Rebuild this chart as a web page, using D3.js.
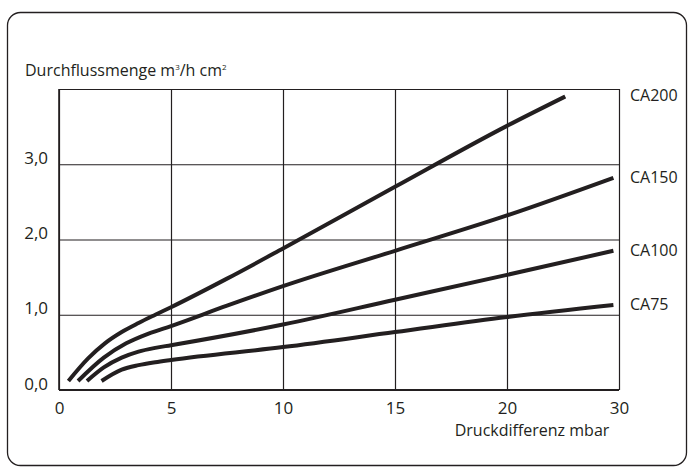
<!DOCTYPE html>
<html lang="de">
<head>
<meta charset="utf-8" />
<script src="https://cdn.jsdelivr.net/npm/d3@7"></script>
<style>
  body { margin: 0; background: #fff; }
  text { font-family: "Open Sans", sans-serif; fill: #231f20; }
  .grid line { stroke: #231f20; stroke-width: 1.2; }
  .grid path { display: none; }
  .tick-lbl path, .tick-lbl line { display: none; }
</style>
</head>
<body>
<script>
// x ticks (last column is compressed: 20 -> 30)
var xTicks = [0, 5, 10, 15, 20, 30];
var yTicks = [0, 1, 2, 3];
var yGrid = [0, 1, 2, 3, 4];

var seriesNames = ["CA200", "CA150", "CA100", "CA75"];

var ca200 = [[0.42, 0.12], [1.3, 0.42], [2.05, 0.62], [2.8, 0.77], [3.55, 0.89], [4.3, 1.0], [5, 1.1], [7.5, 1.48], [10, 1.88], [15, 2.7], [20, 3.51], [25.2, 3.9]];
var ca150 = [[0.85, 0.12], [2, 0.43], [3, 0.62], [4, 0.75], [5, 0.85], [7.5, 1.12], [10, 1.38], [15, 1.85], [20, 2.32], [29.5, 2.82]];
var ca100 = [[1.25, 0.12], [2, 0.3], [2.8, 0.43], [3.55, 0.51], [4.3, 0.56], [5, 0.595], [10, 0.87], [15, 1.2], [20, 1.53], [29.5, 1.85]];
var ca75 = [[1.9, 0.12], [2.8, 0.27], [3.55, 0.33], [4.3, 0.37], [5, 0.4], [10, 0.57], [15, 0.77], [20, 0.97], [29.5, 1.13]];

var series = [ca200, ca150, ca100, ca75];

var width = 689, height = 467;
var pLeft = 59, pRight = 619, pTop = 89, pBottom = 390;

var svg = d3.select("body").append("svg")
    .attr("width", width)
    .attr("height", height);

// outer frame
svg.append("rect")
    .attr("x", 7.5).attr("y", 12.5)
    .attr("width", 679).attr("height", 453)
    .attr("rx", 13).attr("ry", 13)
    .attr("fill", "none")
    .attr("stroke", "#231f20")
    .attr("stroke-width", 1.3);

var colW = (pRight - pLeft) / 5;
var x = d3.scaleLinear()
    .domain(xTicks)
    .range(xTicks.map(function (d, i) { return pLeft + i * colW; }));

var y = d3.scaleLinear().domain([0, 4]).range([pBottom, pTop]);

var de = d3.formatLocale({ decimal: ",", thousands: ".", grouping: [3], currency: ["", " €"] });
var fmt = de.format(".1f");

// grid
svg.append("g").attr("class", "grid")
    .attr("transform", "translate(0," + pBottom + ")")
    .call(d3.axisBottom(x).tickValues(xTicks).tickSize(-(pBottom - pTop)).tickFormat(""));

svg.append("g").attr("class", "grid")
    .attr("transform", "translate(" + pLeft + ",0)")
    .call(d3.axisLeft(y).tickValues(yGrid).tickSize(-(pRight - pLeft)).tickFormat(""));

// thicker base lines
svg.append("line")
    .attr("x1", pLeft).attr("x2", pRight).attr("y1", pBottom).attr("y2", pBottom)
    .attr("stroke", "#231f20").attr("stroke-width", 2);
svg.append("line")
    .attr("x1", pLeft).attr("x2", pLeft).attr("y1", pTop).attr("y2", pBottom)
    .attr("stroke", "#231f20").attr("stroke-width", 1.6);

// x labels
var xa = svg.append("g").attr("class", "tick-lbl")
    .attr("transform", "translate(0," + pBottom + ")")
    .call(d3.axisBottom(x).tickValues(xTicks).tickSize(0).tickPadding(0));
xa.selectAll("text")
    .attr("dy", null)
    .attr("y", 24)
    .style("font-size", "17px")
    .style("font-family", "'Open Sans', sans-serif")
    .attr("fill", "#231f20");

// y labels
var ya = svg.append("g").attr("class", "tick-lbl")
    .attr("transform", "translate(48,0)")
    .call(d3.axisLeft(y).tickValues(yTicks).tickSize(0).tickPadding(0).tickFormat(fmt));
ya.selectAll("text")
    .attr("dy", "-1")
    .attr("x", 0)
    .style("font-size", "17px")
    .style("font-family", "'Open Sans', sans-serif")
    .attr("fill", "#231f20");

// axis titles
svg.append("text")
    .attr("x", 25).attr("y", 76)
    .style("font-size", "16px")
    .html("Durchflussmenge m<tspan dy='-6' style='font-size:8px'>3</tspan><tspan dy='6'>/h cm</tspan><tspan dy='-6' style='font-size:8px'>2</tspan>");

svg.append("text")
    .attr("x", 532).attr("y", 436)
    .attr("text-anchor", "middle")
    .style("font-size", "16px")
    .text("Druckdifferenz mbar");

// curves
var line = d3.line()
    .x(function (d) { return x(d[0]); })
    .y(function (d) { return y(d[1]); })
    .curve(d3.curveMonotoneX);

svg.selectAll("path.curve")
    .data(series)
    .enter().append("path")
    .attr("class", "curve")
    .attr("d", line)
    .attr("fill", "none")
    .attr("stroke", "#231f20")
    .attr("stroke-width", 4);

// series labels
svg.selectAll("text.lbl")
    .data(series)
    .enter().append("text")
    .attr("class", "lbl")
    .attr("x", 630)
    .attr("y", function (d) { return y(d[d.length - 1][1]); })
    .attr("dy", "0.3em")
    .style("font-size", "16px")
    .text(function (d, i) { return seriesNames[i]; });
</script>
</body>
</html>
